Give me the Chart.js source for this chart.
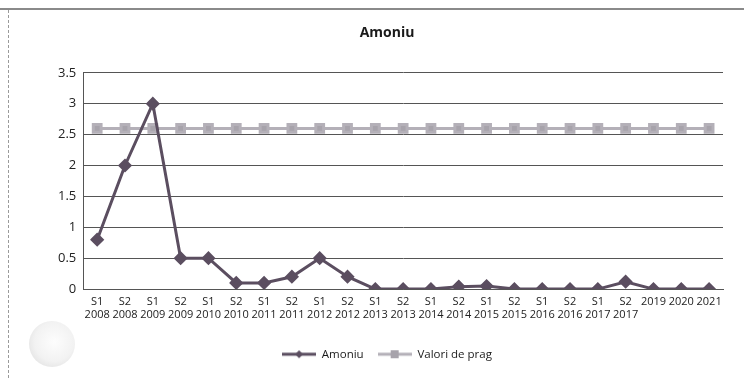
<!DOCTYPE html>
<html>
<head>
<meta charset="utf-8">
<script src="https://cdn.jsdelivr.net/npm/chart.js@4/dist/chart.umd.min.js"></script>
<style>
  html, body { margin: 0; padding: 0; background: #fff; }
  .wrap { position: relative; width: 744px; height: 378px; overflow: hidden; }
  /* marginea paginii scanate */
  .topEdge { position: absolute; left: 0; top: 8px; width: 744px; height: 2px; background: #8a8a8a; }
  .leftEdge { position: absolute; left: 8px; top: 10px; width: 0; height: 368px; border-left: 1px dashed #9a9a9a; }
  .hole { position: absolute; left: 29px; top: 321px; width: 46px; height: 46px; border-radius: 50%;
          background: radial-gradient(circle at 55% 45%, #fdfdfd 0%, #f2f2f2 55%, #d8d8d8 100%); }
  canvas { position: absolute; left: 0; top: 0; }
</style>
</head>
<body>
<div class="wrap">
  <div class="topEdge"></div>
  <div class="leftEdge"></div>
  <div class="hole"></div>
  <canvas id="amoniuChart" width="744" height="378"></canvas>
</div>
<script>
'use strict'

//perioade
const perioade = [
  ['S1', '2008'], ['S2', '2008'], ['S1', '2009'], ['S2', '2009'], ['S1', '2010'], ['S2', '2010'],
  ['S1', '2011'], ['S2', '2011'], ['S1', '2012'], ['S2', '2012'], ['S1', '2013'], ['S2', '2013'],
  ['S1', '2014'], ['S2', '2014'], ['S1', '2015'], ['S2', '2015'], ['S1', '2016'], ['S2', '2016'],
  ['S1', '2017'], ['S2', '2017'], '2019', '2020', '2021'
];
//valori amoniu
const amoniu = [0.8, 2, 3, 0.5, 0.5, 0.1, 0.1, 0.2, 0.5, 0.2, 0, 0, 0, 0.04, 0.05, 0, 0, 0, 0, 0.12, 0, 0, 0];
//valori de prag
const valoriPrag = [2.6, 2.6, 2.6, 2.6, 2.6, 2.6, 2.6, 2.6, 2.6, 2.6, 2.6, 2.6, 2.6, 2.6, 2.6, 2.6, 2.6, 2.6, 2.6, 2.6, 2.6, 2.6, 2.6];
//gradatii axa y
const gradatiiY = [0, 0.5, 1, 1.5, 2, 2.5, 3, 3.5];

const culoareAmoniu = '#5b4e60';
const culoarePrag = '#b4b0b8';
const culoareMarkerPrag = '#a7a3ab';
const fontText = "'Open Sans', 'DejaVu Sans', sans-serif";

//simbol legenda: linie + marker
function legendIcon(lineColor, markerColor, style){
  const c = document.createElement('canvas');
  c.width = 34; c.height = 10;
  const ctx = c.getContext('2d');
  ctx.strokeStyle = lineColor;
  ctx.lineWidth = 3;
  ctx.beginPath();
  ctx.moveTo(0, 5);
  ctx.lineTo(34, 5);
  ctx.stroke();
  ctx.fillStyle = markerColor;
  if(style == 'rect'){
    ctx.fillRect(13, 1, 8, 8);
  }
  else{
    ctx.beginPath();
    ctx.moveTo(17, 1); ctx.lineTo(21, 5); ctx.lineTo(17, 9); ctx.lineTo(13, 5);
    ctx.closePath();
    ctx.fill();
  }
  return c;
}

new Chart(document.getElementById('amoniuChart'), {
  type: 'line',
  data: {
    labels: perioade,
    datasets: [
      {
        label: 'Amoniu',
        data: amoniu,
        borderColor: culoareAmoniu,
        backgroundColor: culoareAmoniu,
        borderWidth: 3,
        pointStyle: 'rectRot',
        pointRadius: 5,
        pointHoverRadius: 5,
        tension: 0,
        order: 1
      },
      {
        label: 'Valori de prag',
        data: valoriPrag,
        borderColor: culoarePrag,
        backgroundColor: culoareMarkerPrag,
        borderWidth: 3,
        pointStyle: 'rect',
        pointRadius: 5.5,
        pointHoverRadius: 5.5,
        tension: 0,
        order: 2
      }
    ]
  },
  options: {
    responsive: false,
    animation: false,
    layout: { padding: { left: 51, right: 21, top: 12, bottom: 8 } },
    plugins: {
      title: {
        display: true,
        text: 'Amoniu',
        color: '#1a1a1a',
        font: { family: fontText, size: 14, weight: 'bold' },
        padding: { top: 13, bottom: 31 }
      },
      legend: {
        position: 'bottom',
        labels: {
          color: '#1a1a1a',
          font: { family: fontText, size: 11.5 },
          usePointStyle: true,
          pointStyleWidth: 34,
          boxHeight: 10,
          padding: 14,
          generateLabels: function(chart){
            return [
              { text: 'Amoniu', pointStyle: legendIcon(culoareAmoniu, culoareAmoniu, 'diamond'), datasetIndex: 0, fontColor: '#1a1a1a', lineWidth: 0, strokeStyle: 'transparent' },
              { text: 'Valori de prag', pointStyle: legendIcon(culoarePrag, culoareMarkerPrag, 'rect'), datasetIndex: 1, fontColor: '#1a1a1a', lineWidth: 0, strokeStyle: 'transparent' }
            ];
          }
        }
      },
      tooltip: { enabled: false }
    },
    scales: {
      x: {
        offset: true,
        grid: { display: false, drawTicks: false },
        border: { display: true, color: '#555', width: 1 },
        afterFit: function(axis){
          axis.height += 7;
        },
        ticks: {
          color: '#222',
          font: { family: fontText, size: 11 },
          maxRotation: 0,
          autoSkip: false,
          padding: 6
        }
      },
      y: {
        min: 0,
        max: 3.5,
        afterBuildTicks: function(axis){
          axis.ticks = gradatiiY.map((v) => ({ value: v }));
        },
        grid: { color: '#555', lineWidth: 1, drawTicks: false },
        border: { display: true, color: '#555', width: 1 },
        ticks: {
          color: '#222',
          font: { family: fontText, size: 13 },
          padding: 7,
          callback: function(value){
            return String(value);
          }
        }
      }
    }
  }
});
</script>
</body>
</html>
